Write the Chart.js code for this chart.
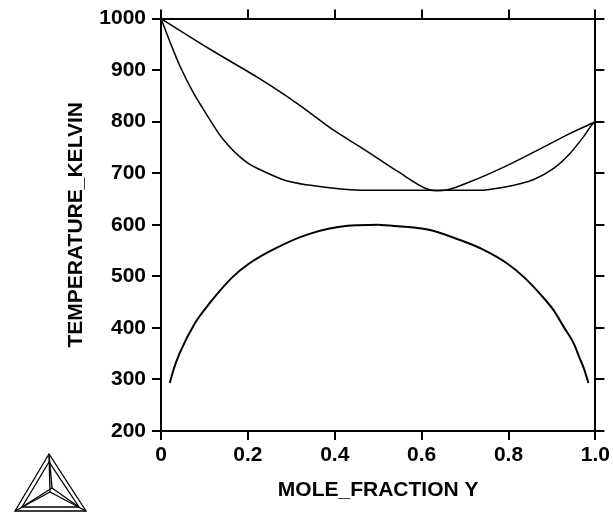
<!DOCTYPE html>
<html>
<head>
<meta charset="utf-8">
<script src="https://cdn.jsdelivr.net/npm/chart.js@4/dist/chart.umd.min.js"></script>
<style>
  body { margin: 0; background: #fff; }
  canvas { display: block; }
</style>
</head>
<body>
<canvas id="myChart" width="613" height="515"></canvas>
<script>
// upper two-phase region, liquid boundary
var liquidusX = [0, 0.112, 0.226, 0.283, 0.317, 0.340, 0.393, 0.470, 0.546, 0.614, 0.635, 0.660, 0.713, 0.789, 0.865, 0.941, 0.995, 1.0];
var liquidusT = [1000, 941, 884, 853, 833, 819, 786, 745, 703, 669, 666, 668, 684, 712, 744, 777, 798, 800];

// upper two-phase region, solid boundary
var solidusX = [0, 0.021, 0.043, 0.074, 0.097, 0.142, 0.196, 0.241, 0.287, 0.340, 0.409, 0.477, 0.55, 0.65, 0.730, 0.789, 0.858, 0.903, 0.941, 0.972, 0.995, 1.0];
var solidusT = [1000, 954, 909, 857, 825, 767, 722, 702, 686, 677, 670, 667, 667, 667, 667, 673, 688, 709, 738, 770, 797, 800];

// miscibility gap dome
var gapLeftX = [0.02, 0.03, 0.043, 0.078, 0.112, 0.164, 0.203, 0.26, 0.34, 0.43, 0.5];
var gapLeftT = [293, 322, 351, 409, 448, 498, 525, 553, 582, 598, 600];
var gapRightX = [0.5, 0.614, 0.69, 0.744, 0.797, 0.836, 0.881, 0.904, 0.927, 0.95, 0.963, 0.974, 0.984];
var gapRightT = [600, 591, 570, 551, 525, 498, 458, 434, 402, 370, 343, 320, 293];

var xTicks = [0, 0.2, 0.4, 0.6, 0.8, 1.0];
var xTickLabels = ['0', '0.2', '0.4', '0.6', '0.8', '1.0'];

function pts(xs, ys){
    return xs.map(function(x, i){ return {x: x, y: ys[i]}; });
}

function line(xs, ys, w){
    return {
        data: pts(xs, ys),
        showLine: true,
        borderColor: '#000',
        borderWidth: w,
        pointRadius: 0,
        cubicInterpolationMode: 'monotone',
        fill: false,
        clip: false
    };
}

var font = {family: '"Liberation Sans", Arial, sans-serif', weight: 'bold', size: 21};
var titleFont = {family: '"Liberation Sans", Arial, sans-serif', weight: 'bold', size: 21};

function axisGrid(){
    return {drawOnChartArea: false, drawTicks: true, tickLength: 9, color: '#000', lineWidth: 2};
}
var axisBorder = {display: true, color: '#000', width: 2};

// small triangle logo in the corner
var logo = {
    id: 'logo',
    afterDraw: function(chart){
        var c = chart.ctx;
        c.save();
        c.strokeStyle = '#000';
        c.lineWidth = 1.3;
        var A = [49, 454], B = [15, 511], C = [86, 511];
        var a = [49, 462], b = [22, 507], c2 = [79, 507];
        var P = [50, 492], Q = [52, 488];
        function tri(p, q, r){
            c.beginPath(); c.moveTo(p[0], p[1]); c.lineTo(q[0], q[1]); c.lineTo(r[0], r[1]); c.closePath(); c.stroke();
        }
        function seg(p, q){
            c.beginPath(); c.moveTo(p[0], p[1]); c.lineTo(q[0], q[1]); c.stroke();
        }
        tri(A, B, C);
        tri(a, b, c2);
        seg(A, P); seg(B, P); seg(C, P);
        seg(A, Q); seg(b, Q); seg(c2, Q);
        c.restore();
    }
};

var ctx = document.getElementById('myChart').getContext('2d');
var myChart = new Chart(ctx, {
    type: 'scatter',
    data: {
        datasets: [
            line(liquidusX, liquidusT, 1.5),
            line(solidusX, solidusT, 1.5),
            line(gapLeftX, gapLeftT, 2),
            line(gapRightX, gapRightT, 2)
        ]
    },
    options: {
        responsive: false,
        animation: false,
        layout: {padding: 0},
        plugins: {legend: {display: false}, tooltip: {enabled: false}},
        scales: {
            x: {
                type: 'linear', position: 'bottom', min: 0, max: 1,
                afterBuildTicks: function(s){ s.ticks = xTicks.map(function(v){ return {value: v}; }); },
                ticks: {
                    color: '#000', font: font, padding: 3, maxRotation: 0,
                    callback: function(v){ return xTickLabels[xTicks.indexOf(v)]; }
                },
                grid: axisGrid(),
                border: axisBorder,
                title: {display: true, text: 'MOLE_FRACTION Y', color: '#000', font: titleFont, padding: {top: 0, bottom: 12}},
                afterFit: function(s){ s.height = 84; }
            },
            x2: {
                type: 'linear', position: 'top', min: 0, max: 1,
                afterBuildTicks: function(s){ s.ticks = xTicks.map(function(v){ return {value: v}; }); },
                ticks: {display: false},
                grid: axisGrid(),
                border: axisBorder,
                afterFit: function(s){ s.height = 18; }
            },
            y: {
                type: 'linear', position: 'left', min: 200, max: 1000,
                ticks: {stepSize: 100, color: '#000', font: font, padding: 6,
                    callback: function(v){ return String(v); }},
                grid: axisGrid(),
                border: axisBorder,
                title: {display: true, text: 'TEMPERATURE_KELVIN', color: '#000', font: titleFont, padding: {top: 64, bottom: 0}},
                afterFit: function(s){ s.width = 161; }
            },
            y2: {
                type: 'linear', position: 'right', min: 200, max: 1000,
                ticks: {display: false, stepSize: 100},
                grid: axisGrid(),
                border: axisBorder,
                afterFit: function(s){ s.width = 14; }
            }
        }
    },
    plugins: [logo]
});
</script>
</body>
</html>
